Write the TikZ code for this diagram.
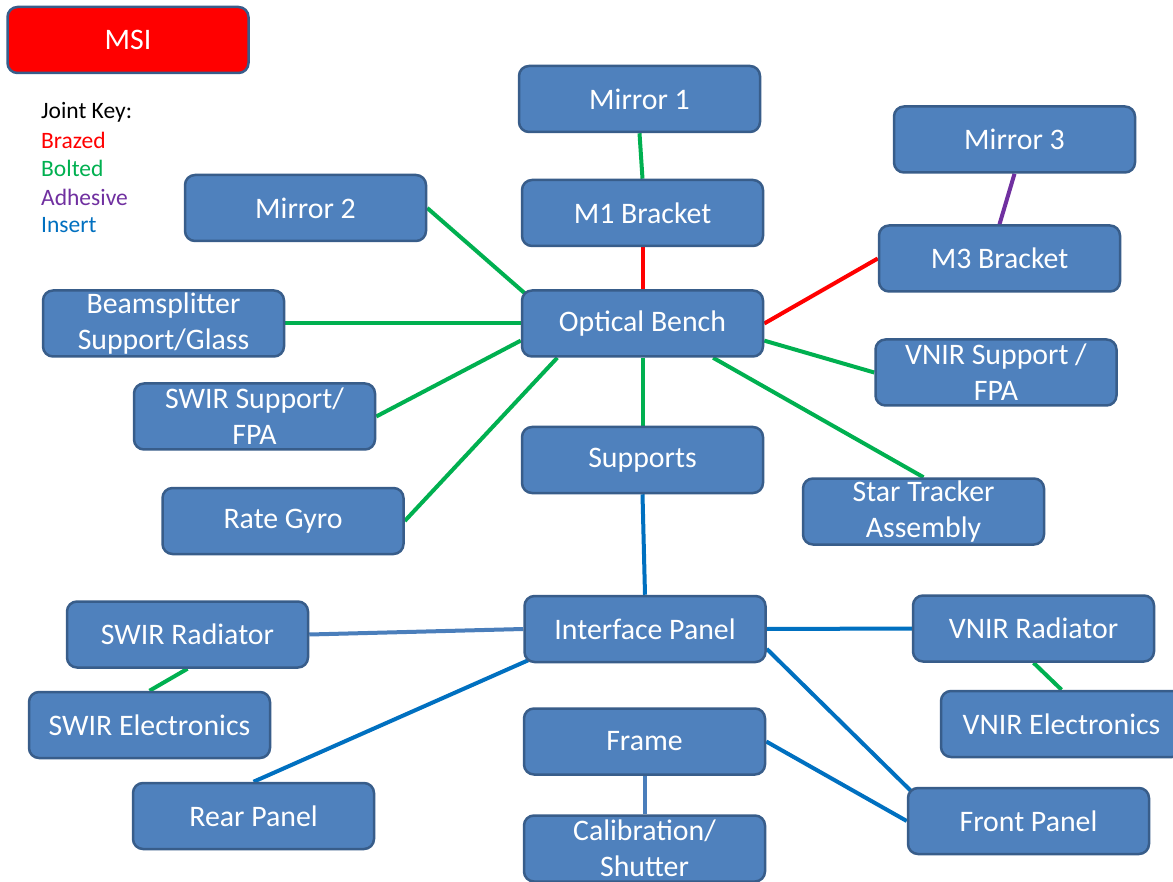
\documentclass[tikz,border=0pt]{standalone}
\usepackage{fontspec}
\setmainfont{Carlito}
\usetikzlibrary{calc,backgrounds}
\definecolor{boxfill}{HTML}{4F81BD}
\definecolor{boxline}{HTML}{385D8A}
\definecolor{jgreen}{HTML}{00B050}
\definecolor{jred}{HTML}{FF0000}
\definecolor{jpurple}{HTML}{7030A0}
\definecolor{jblue}{HTML}{0070C0}
\definecolor{jsteel}{HTML}{4A7EBB}
\tikzset{
  box/.style={draw=boxline, fill=boxfill, line width=2.5pt, rounded corners=10pt,
    minimum width=241pt, minimum height=66pt, inner sep=0pt, text=white,
    align=center, font=\fontsize{29.8}{36}\selectfont},
  keytext/.style={anchor=west, inner sep=0pt, font=\fontsize{23.5}{28}\selectfont},
  bolted/.style={draw=jgreen, line width=4pt},
  brazed/.style={draw=jred, line width=4pt},
  adhesive/.style={draw=jpurple, line width=4pt},
  insert/.style={draw=jblue, line width=4pt},
  insertlight/.style={draw=jsteel, line width=4pt},
}
\begin{document}
\begin{tikzpicture}[x=1pt,y=-1pt]
\useasboundingbox (0,0) rectangle (1173,882);
\clip (0,0) rectangle (1173,882);

% nodes
\node[box, fill=jred] (msi) at (128,40) {MSI};
\node[keytext] (kjoint) at (41,112) {Joint Key:};
\node[keytext, text=jred] (kbrazed) at (41,140) {Brazed};
\node[keytext, text=jgreen] (kbolted) at (41,168) {Bolted};
\node[keytext, text=jpurple] (kadhesive) at (41,197) {Adhesive};
\node[keytext, text=jblue] (kinsert) at (41,225) {Insert};

\node[box] (mirror1) at (639.5,99) {Mirror 1};
\node[box] (m1b) at (642.5,213) {M1 Bracket};
\node[box] (mirror2) at (305.5,208) {Mirror 2};
\node[box] (mirror3) at (1014.5,139.5) {Mirror 3};
\node[box] (m3b) at (999.5,258.5) {M3 Bracket};
\node[box] (ob) at (642.5,323.5) {Optical Bench};
\node[box] (beam) at (163.5,323.5) {Beamsplitter\\Support/Glass};
\node[box] (vnirsup) at (996,372.5) {VNIR Support /\\FPA};
\node[box] (swirsup) at (254.5,416.5) {SWIR Support/\\FPA};
\node[box] (supports) at (642.5,460) {Supports};
\node[box] (star) at (923.5,511.5) {Star Tracker\\Assembly};
\node[box] (gyro) at (283,521) {Rate Gyro};
\node[box] (ip) at (645,629) {Interface Panel};
\node[box] (swirrad) at (187.5,634.5) {SWIR Radiator};
\node[box] (vnirrad) at (1033.5,628.5) {VNIR Radiator};
\node[box] (swirel) at (149.5,725) {SWIR Electronics};
\node[box] (vnirel) at (1061.5,724) {VNIR Electronics};
\node[box] (frame) at (644.5,741.5) {Frame};
\node[box] (rear) at (253.5,816) {Rear Panel};
\node[box] (front) at (1028.5,821) {Front Panel};
\node[box] (calib) at (644.5,848.5) {Calibration/\\Shutter};

% connectors, under the boxes
\begin{scope}[on background layer]
\fill[white] (0,0) rectangle (1173,882);
\draw[bolted] (mirror1.south) -- (m1b.north);
\draw[brazed] (m1b.south) -- (ob.north);
\draw[bolted] (mirror2.east) -- ($(ob.north west)+(4,4)$);
\draw[bolted] (beam.east) -- (ob.west);
\draw[bolted] (swirsup.east) -- ($(ob.west)!0.5!(ob.south west)$);
\draw[bolted] (gyro.east) -- ($(ob.south west)!0.15!(ob.south east)$);
\draw[bolted] (ob.south) -- (supports.north);
\draw[brazed] (ob.east) -- (m3b.west);
\draw[bolted] ($(ob.east)!0.5!(ob.south east)$) -- (vnirsup.west);
\draw[bolted] ($(ob.south west)!0.79!(ob.south east)$) -- (star.north);
\draw[adhesive] (mirror3.south) -- (m3b.north);
\draw[insert] (supports.south) -- (ip.north);
\draw[insertlight] (swirrad.east) -- (ip.west);
\draw[insert] (ip.east) -- (vnirrad.west);
\draw[bolted] (swirrad.south) -- (swirel.north);
\draw[bolted] (vnirrad.south) -- (vnirel.north);
\draw[insert] ($(ip.south west)+(5,-3)$) -- (rear.north);
\draw[insert] ($(ip.east)!0.58!(ip.south east)$) -- ($(front.north west)+(4,4)$);
\draw[insert] (frame.east) -- (front.west);
\draw[insertlight] (frame.south) -- (calib.north);
\end{scope}
\end{tikzpicture}
\end{document}
